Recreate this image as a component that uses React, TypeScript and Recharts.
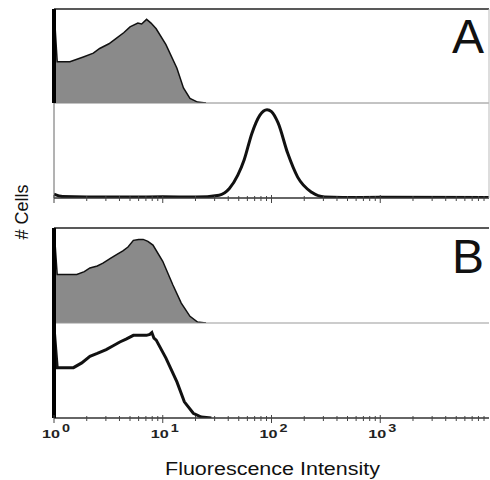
import React from 'react';
import { AreaChart, Area, XAxis, YAxis } from 'recharts';

// ---- data (x = fluorescence intensity, y = relative cell count) ----
const majorTicks = [1, 10, 100, 1000];
const exponentLabels = ['0', '1', '2', '3'];
const minorTicks = [
  2, 3, 4, 5, 6, 7, 8, 9,
  20, 30, 40, 50, 60, 70, 80, 90,
  200, 300, 400, 500, 600, 700, 800, 900,
  2000, 3000, 4000, 5000, 6000, 7000, 8000, 9000,
];

const aTopX = [1, 1.07, 1.4, 1.86, 2.3, 2.63, 3.2, 3.76, 4.4, 5.0, 5.9, 6.4, 7.1, 7.8, 8.7, 10.7, 13.5, 15.5, 17.8, 20.9, 25];
const aTopY = [1.0, 0.44, 0.44, 0.49, 0.53, 0.58, 0.63, 0.69, 0.75, 0.81, 0.85, 0.84, 0.89, 0.85, 0.79, 0.62, 0.37, 0.16, 0.05, 0.01, 0];

const aBotX = [1, 1.2, 2, 5, 10, 20, 33, 41, 49, 56, 66, 78, 91, 100, 115, 141, 174, 234, 309, 450, 1000, 10000];
const aBotY = [0.04, 0.015, 0.01, 0.01, 0.012, 0.01, 0.03, 0.1, 0.24, 0.4, 0.68, 0.87, 0.93, 0.91, 0.79, 0.47, 0.22, 0.06, 0.01, 0.005, 0.008, 0.005];

const bTopX = [1, 1.07, 1.3, 1.62, 1.9, 2.14, 2.5, 2.82, 3.3, 3.76, 4.3, 4.79, 5.37, 6.0, 6.61, 7.3, 8.13, 10, 12.4, 14.8, 17.8, 20.9, 25];
const bTopY = [1.0, 0.51, 0.51, 0.51, 0.54, 0.58, 0.6, 0.63, 0.68, 0.72, 0.76, 0.8, 0.87, 0.88, 0.88, 0.86, 0.82, 0.65, 0.4, 0.21, 0.07, 0.01, 0];

const bBotX = [1, 1.07, 1.51, 1.8, 2.14, 2.5, 3.02, 3.5, 4.03, 4.6, 5.37, 6.2, 7.08, 7.6, 7.94, 8.3, 8.71, 10.7, 13.5, 15.8, 19.1, 22.6, 28];
const bBotY = [0.96, 0.53, 0.53, 0.58, 0.65, 0.68, 0.72, 0.76, 0.8, 0.83, 0.87, 0.87, 0.87, 0.88, 0.9, 0.84, 0.82, 0.63, 0.38, 0.17, 0.05, 0.01, 0];

const zip = (xs: number[], ys: number[]) => xs.map((x, i) => ({ x, y: ys[i] }));

const FONT = 'Liberation Sans, Arial, Helvetica, sans-serif';
const allTicks = [...majorTicks, ...minorTicks].sort((a, b) => a - b);

const AxisTick = (props: any) => {
  const { x, y, payload, showLabels } = props;
  const v = payload.value;
  const idx = majorTicks.indexOf(v);
  const major = idx >= 0;
  return (
    <g>
      <line x1={x} x2={x} y1={y - (major ? 3 : 2)} y2={y + (major ? 5 : 3)} stroke="#444" strokeWidth={1} />
      {major && showLabels && (
        <g fontFamily={FONT} fill="#222" fontWeight={700}>
          <text x={x + 6} y={y + 20} textAnchor="end" fontSize={11.5} textLength={18} lengthAdjust="spacingAndGlyphs">10</text>
          <text x={x + 8} y={y + 14} fontSize={10} textLength={8} lengthAdjust="spacingAndGlyphs">{exponentLabels[idx]}</text>
        </g>
      )}
    </g>
  );
};

type PanelProps = {
  data: { x: number; y: number }[];
  top: number;
  height: number;
  marginTop: number;
  marginBottom: number;
  filled: boolean;
  leftStroke: string;
  leftWidth: number;
  topBorder: boolean;
  bottomStroke: string;
  bottomWidth: number;
  ticks: boolean;
  labels: boolean;
  rightBorder: boolean;
  curve: 'linear' | 'monotone';
};

const Panel = (p: PanelProps) => (
  <div style={{ position: 'absolute', left: 0, top: p.top }}>
    <AreaChart
      width={490}
      height={p.height}
      data={p.data}
      margin={{ top: p.marginTop, right: p.rightBorder ? 0 : 1, bottom: p.marginBottom, left: 53 }}
    >
      <XAxis
        xAxisId={0}
        dataKey="x"
        type="number"
        scale="log"
        domain={[1, 10000]}
        allowDataOverflow
        ticks={p.ticks ? allTicks : [1]}
        interval={0}
        tickSize={0}
        tickMargin={0}
        tickLine={false}
        tick={p.ticks ? <AxisTick showLabels={p.labels} /> : false}
        height={1}
        axisLine={{ stroke: p.bottomStroke, strokeWidth: p.bottomWidth }}
      />
      {p.topBorder && (
        <XAxis
          xAxisId="top"
          orientation="top"
          type="number"
          scale="log"
          domain={[1, 10000]}
          allowDataOverflow
          ticks={[1]}
          tick={false}
          tickLine={false}
          height={1}
          axisLine={{ stroke: '#222', strokeWidth: 1.5 }}
        />
      )}
      <YAxis
        yAxisId={0}
        type="number"
        domain={[0, 1]}
        allowDataOverflow
        ticks={[0]}
        width={1}
        tick={false}
        tickLine={false}
        axisLine={{ stroke: p.leftStroke, strokeWidth: p.leftWidth }}
      />
      {p.rightBorder && (
        <YAxis
          yAxisId="right"
          orientation="right"
          type="number"
          domain={[0, 1]}
          ticks={[0]}
          width={1}
          tick={false}
          tickLine={false}
          axisLine={{ stroke: '#bbb', strokeWidth: 1 }}
        />
      )}
      <Area
        xAxisId={0}
        yAxisId={0}
        type={p.curve}
        dataKey="y"
        stroke="#111"
        strokeWidth={p.filled ? 1.5 : 3}
        fill={p.filled ? '#8a8a8a' : 'none'}
        fillOpacity={1}
        dot={false}
        activeDot={false}
        isAnimationActive={false}
      />
    </AreaChart>
  </div>
);

export default function App() {
  return (
    <div style={{ position: 'absolute', left: 0, top: 0, width: 490, height: 480, background: '#fff', overflow: 'hidden' }}>
      <Panel
        data={zip(aTopX, aTopY)}
        top={0}
        height={104}
        marginTop={8}
        marginBottom={0}
        filled
        leftStroke="#000"
        leftWidth={4}
        topBorder
        bottomStroke="#888"
        bottomWidth={1}
        ticks={false}
        labels={false}
        rightBorder
        curve="linear"
      />
      <Panel
        data={zip(aBotX, aBotY)}
        top={103}
        height={107}
        marginTop={0}
        marginBottom={11}
        filled={false}
        leftStroke="#666"
        leftWidth={1}
        topBorder={false}
        bottomStroke="#333"
        bottomWidth={1.5}
        ticks
        labels={false}
        rightBorder
        curve="monotone"
      />
      <Panel
        data={zip(bTopX, bTopY)}
        top={227}
        height={97}
        marginTop={0}
        marginBottom={0}
        filled
        leftStroke="#000"
        leftWidth={4}
        topBorder
        bottomStroke="#999"
        bottomWidth={1}
        ticks={false}
        labels={false}
        rightBorder={false}
        curve="linear"
      />
      <Panel
        data={zip(bBotX, bBotY)}
        top={323}
        height={157}
        marginTop={0}
        marginBottom={61}
        filled={false}
        leftStroke="#000"
        leftWidth={4}
        topBorder={false}
        bottomStroke="#333"
        bottomWidth={1.5}
        ticks
        labels
        rightBorder={false}
        curve="linear"
      />
      <svg width={490} height={480} style={{ position: 'absolute', left: 0, top: 0, pointerEvents: 'none' }}>
        <g fontFamily={FONT} fill="#111">
          <text x={484} y={53} textAnchor="end" fontSize={48}>A</text>
          <text x={484} y={273} textAnchor="end" fontSize={48}>B</text>
          <text x={165} y={475} fontSize={18} textLength={215} lengthAdjust="spacingAndGlyphs">Fluorescence Intensity</text>
          <text x={28} y={212} fontSize={18} textAnchor="middle" transform="rotate(-90 28 212)">
            # Cells
          </text>
        </g>
      </svg>
    </div>
  );
}
